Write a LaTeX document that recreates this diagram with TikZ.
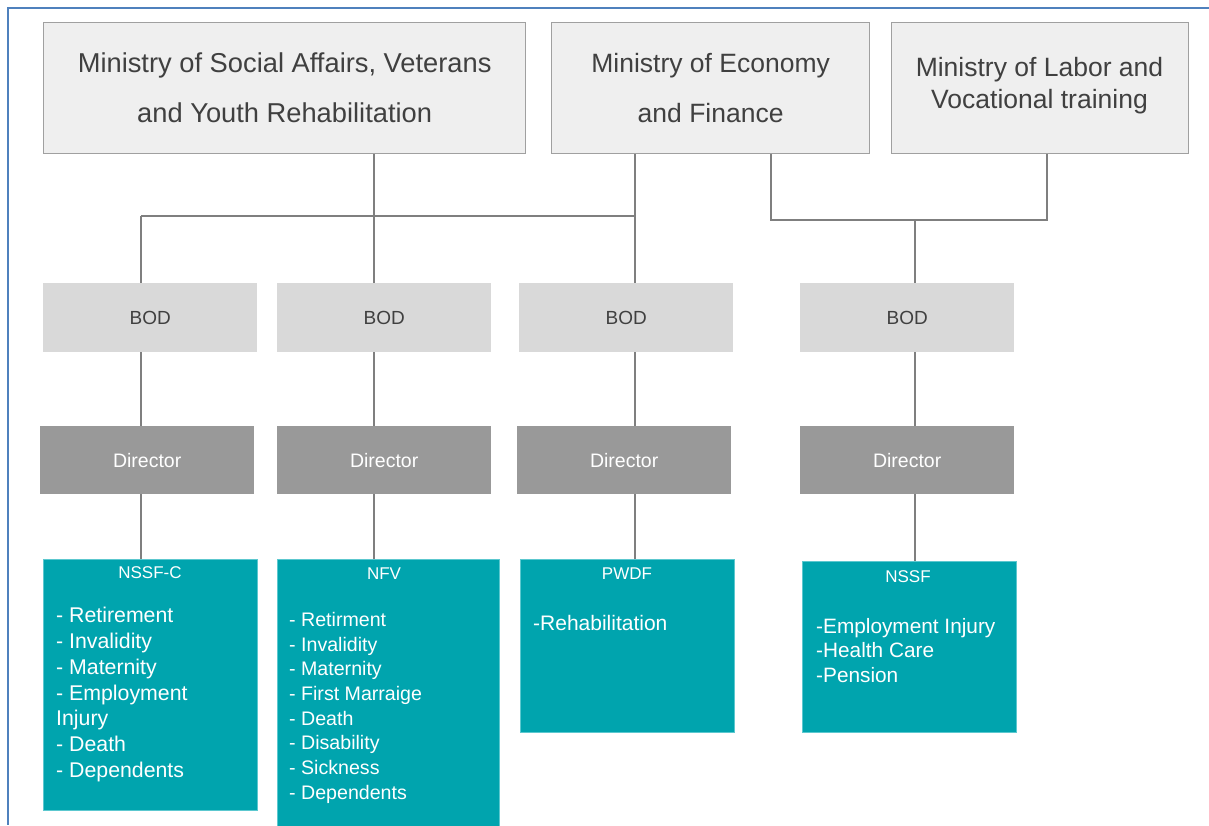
\documentclass[tikz,border=0pt]{standalone}
\usepackage{fontspec}
\setmainfont{Liberation Sans}
\definecolor{frameblue}{HTML}{4F81BD}
\definecolor{minfill}{HTML}{EFEFEF}
\definecolor{minedge}{HTML}{A0A0A0}
\definecolor{bodfill}{HTML}{D9D9D9}
\definecolor{dirfill}{HTML}{999999}
\definecolor{tealfill}{HTML}{00A4AE}
\definecolor{tealedge}{HTML}{5CC8CF}
\definecolor{linkgray}{HTML}{7F7F7F}
\definecolor{txtgray}{HTML}{404040}
\tikzset{
  ministry/.style={draw=minedge, line width=1.3pt, fill=minfill, anchor=north west, inner sep=0pt, text=txtgray, align=center},
  bodbox/.style={fill=bodfill, anchor=north west, inner sep=0pt, minimum width=214pt, minimum height=69pt, text=txtgray, font=\fontsize{19}{22}\selectfont},
  dirbox/.style={fill=dirfill, anchor=north west, inner sep=0pt, minimum width=214pt, minimum height=68pt, text=white, font=\fontsize{19.5}{22}\selectfont},
  fundbox/.style={fill=tealfill, draw=tealedge, line width=0.8pt, anchor=north west, inner sep=0pt},
  fundtitle/.style={text=white, inner sep=0pt, font=\fontsize{17}{20}\selectfont},
  fundlist/.style={text=white, inner sep=0pt, anchor=north west, align=left},
  link/.style={draw=linkgray, line width=2pt},
  framestyle/.style={draw=frameblue, line width=1.6pt}
}
\begin{document}
\begin{tikzpicture}[x=1pt,y=-1pt]
\useasboundingbox (0,0) rectangle (1209,825);
\fill[white] (0,0) rectangle (1209,825);
% frame
\coordinate (ftl) at (8,8);
\coordinate (ftr) at (1209,8);
\coordinate (fbl) at (8,825);
\draw[framestyle] (ftr) -- (ftl) -- (fbl);

% ministries
\node[ministry, minimum width=482pt, minimum height=131pt, font=\fontsize{27.3}{50}\selectfont] (m1) at (43,22) {Ministry of Social Affairs, Veterans\\and Youth Rehabilitation};
\node[ministry, minimum width=318pt, minimum height=131pt, font=\fontsize{26.5}{50}\selectfont] (m2) at (551,22) {Ministry of Economy\\and Finance};
\node[ministry, minimum width=297pt, minimum height=131pt] (m3) at (891,22) {};
\node[text=txtgray, align=center, inner sep=0pt, font=\fontsize{26.5}{32}\selectfont] (m3t) at (1039.5,86) {Ministry of Labor and\\Vocational training};

% BOD
\node[bodbox] (b1) at (43,283) {BOD};
\node[bodbox] (b2) at (277,283) {BOD};
\node[bodbox] (b3) at (519,283) {BOD};
\node[bodbox] (b4) at (800,283) {BOD};

% Directors
\node[dirbox] (d1) at (40,426) {Director};
\node[dirbox] (d2) at (277,426) {Director};
\node[dirbox] (d3) at (517,426) {Director};
\node[dirbox] (d4) at (800,426) {Director};

% funds
\node[fundbox, minimum width=214pt, minimum height=251pt] (f1) at (43,559) {};
\node[fundbox, minimum width=222pt, minimum height=270pt] (f2) at (277,559) {};
\node[fundbox, minimum width=214pt, minimum height=173pt] (f3) at (520,559) {};
\node[fundbox, minimum width=214pt, minimum height=171pt] (f4) at (802,561) {};

\node[fundtitle] (f1t) at (150,573) {NSSF-C};
\node[fundtitle] (f2t) at (384,574) {NFV};
\node[fundtitle] (f3t) at (627,574) {PWDF};
\node[fundtitle] (f4t) at (908,577) {NSSF};

\node[fundlist, font=\fontsize{21.3}{25.8}\selectfont] (f1l) at (56,607) {- Retirement\\- Invalidity\\- Maternity\\- Employment\\Injury\\- Death\\- Dependents};
\node[fundlist, font=\fontsize{19.6}{24.7}\selectfont] (f2l) at (289,612) {- Retirment\\- Invalidity\\- Maternity\\- First Marraige\\- Death\\- Disability\\- Sickness\\- Dependents};
\node[fundlist, font=\fontsize{21}{24.5}\selectfont] (f3l) at (533,615) {-Rehabilitation};
\node[fundlist, font=\fontsize{20.8}{24.5}\selectfont] (f4l) at (816,618) {-Employment Injury\\-Health Care\\-Pension};

% connector columns
\coordinate (x1) at (141,216);
\coordinate (x2) at (374,216);
\coordinate (x3) at (635,216);
\coordinate (x5) at (771,220);
\coordinate (x4) at (915,220);
\coordinate (x6) at (1047,220);

\draw[link] (x2 |- m1.south) -- (x2 |- b2.north);
\draw[link] (x3 |- m2.south) -- (x3 |- b3.north);
\draw[link] (x1) -- (x3);
\draw[link] (x1) -- (x1 |- b1.north);
\draw[link] (x5 |- m2.south) -- (x5) -- (x6) -- (x6 |- m3.south);
\draw[link] (x4) -- (x4 |- b4.north);

\draw[link] (x1 |- b1.south) -- (x1 |- d1.north);
\draw[link] (x2 |- b2.south) -- (x2 |- d2.north);
\draw[link] (x3 |- b3.south) -- (x3 |- d3.north);
\draw[link] (x4 |- b4.south) -- (x4 |- d4.north);

\draw[link] (x1 |- d1.south) -- (x1 |- f1.north);
\draw[link] (x2 |- d2.south) -- (x2 |- f2.north);
\draw[link] (x3 |- d3.south) -- (x3 |- f3.north);
\draw[link] (x4 |- d4.south) -- (x4 |- f4.north);
\end{tikzpicture}
\end{document}
